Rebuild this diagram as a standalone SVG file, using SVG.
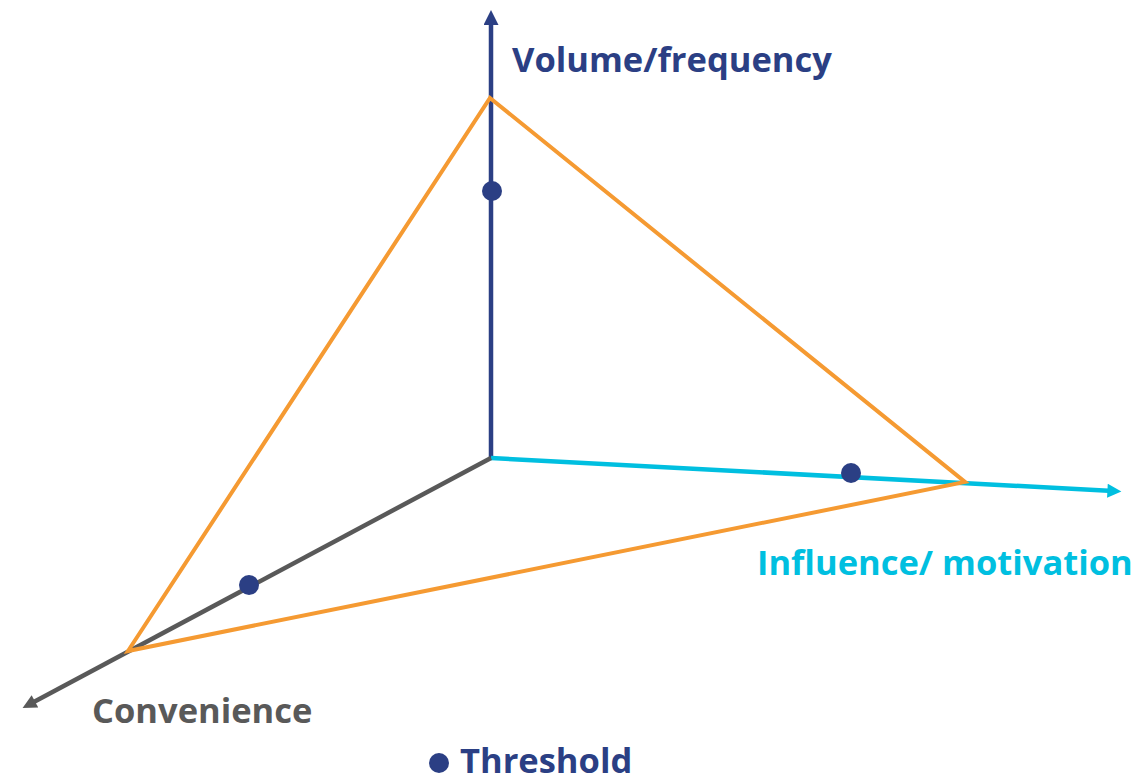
<svg xmlns="http://www.w3.org/2000/svg" width="1137" height="783" viewBox="0 0 1137 783">
<style>
.t{font-family:"Open Sans","DejaVu Sans",sans-serif;font-weight:bold;font-size:34.5px}
.dot{fill:#2B3F84}
</style>
<defs>
<marker id="aC" viewBox="0 0 10 10" refX="4" refY="5" markerWidth="18" markerHeight="14" orient="auto" markerUnits="userSpaceOnUse"><path d="M0,0 L10,5 L0,10 Z" fill="#00BFE0"/></marker>
<marker id="aG" viewBox="0 0 10 10" refX="4" refY="5" markerWidth="18" markerHeight="14" orient="auto" markerUnits="userSpaceOnUse"><path d="M0,0 L10,5 L0,10 Z" fill="#595959"/></marker>
<marker id="aV" viewBox="0 0 10 10" refX="4" refY="5" markerWidth="18" markerHeight="15" orient="auto" markerUnits="userSpaceOnUse"><path d="M0,0 L10,5 L0,10 Z" fill="#2B3F84"/></marker>
</defs>
<g id="connectors" fill="none" stroke-width="4.5">
<line x1="491" y1="458" x2="491" y2="19" stroke="#2B3F84" marker-end="url(#aV)"/>
<line x1="491" y1="458" x2="1113" y2="491" stroke="#00BFE0" marker-end="url(#aC)"/>
<line x1="491" y1="458" x2="30" y2="704" stroke="#595959" marker-end="url(#aG)"/>
<polygon points="490,98 965,482 128,651" stroke="#F59A32" stroke-width="4" stroke-linejoin="miter"/>
</g>
<g id="thresholds">
<circle class="dot" cx="492" cy="191" r="10"/>
<circle class="dot" cx="851" cy="473" r="10"/>
<circle class="dot" cx="249" cy="585" r="10"/>
</g>
<g id="label-volume"><text class="t" x="512" y="72" fill="#2B3F84">Volume/frequency</text></g>
<g id="label-influence"><text class="t" x="757" y="575" fill="#00BFE0">Influence/ motivation</text></g>
<g id="label-convenience"><text class="t" x="92" y="723" fill="#595959">Convenience</text></g>
<g id="legend">
<circle class="dot" cx="439" cy="763" r="10"/>
<text class="t" x="460" y="773" fill="#2B3F84">Threshold</text>
</g>
</svg>
